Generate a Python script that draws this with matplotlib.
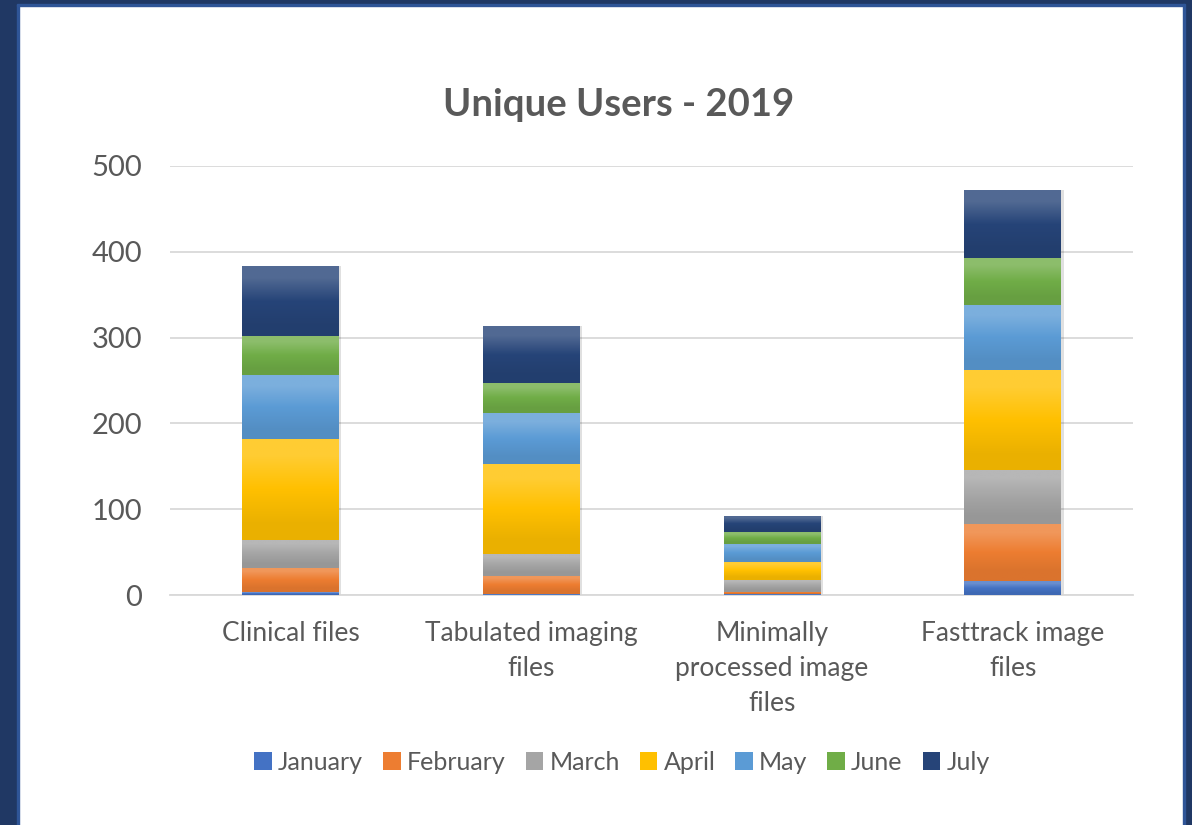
import numpy as np
import matplotlib
matplotlib.use("Agg")
import matplotlib.pyplot as plt
from matplotlib.patches import Rectangle
from matplotlib.colors import to_rgb

# Data
categories = ["Clinical files", "Tabulated imaging\nfiles",
              "Minimally\nprocessed image\nfiles", "Fasttrack image\nfiles"]
months = ["January", "February", "March", "April", "May", "June", "July"]
january = [3, 1, 1, 16]
february = [28, 21, 3, 67]
march = [33, 26, 14, 63]
april = [118, 105, 21, 116]
may = [74, 59, 21, 76]
june = [46, 35, 13, 55]
july = [81, 66, 19, 79]
series = [january, february, march, april, may, june, july]
colors = ["#4472C4", "#ED7D31", "#A5A5A5", "#FFC000", "#5B9BD5", "#70AD47", "#264478"]

plt.rcParams['font.family'] = ['Lato', 'DejaVu Sans']
text_color = "#595959"

fig = plt.figure(figsize=(11.92, 8.25), dpi=100)
W, H = 1192, 825

# dark frame around the chart
frame = "#203864"
edge = "#2F5597"
fig.patches.append(Rectangle((0, 0), 17 / W, 1, transform=fig.transFigure, color=frame, zorder=0))
fig.patches.append(Rectangle((17 / W, 0), 2 / W, 1 - 4 / H, transform=fig.transFigure, color=edge, zorder=0))
fig.patches.append(Rectangle((0, 1 - 4 / H), 1, 4 / H, transform=fig.transFigure, color=frame, zorder=0))
fig.patches.append(Rectangle((17 / W, 1 - 6 / H), 1 - 17 / W, 2 / H, transform=fig.transFigure, color=edge, zorder=0))
fig.patches.append(Rectangle((1 - 7 / W, 0), 7 / W, 1, transform=fig.transFigure, color=frame, zorder=0))
fig.patches.append(Rectangle((1 - 9 / W, 0), 2 / W, 1 - 4 / H, transform=fig.transFigure, color=edge, zorder=0))

ax = fig.add_axes([170 / W, 1 - 595 / H, (1133 - 170) / W, (595 - 166) / H])

x = np.arange(len(categories))
width = 0.40
bottom = np.zeros(len(categories))


def shade(c, f):
    r = np.array(to_rgb(c))
    if f > 0:
        return r + (1 - r) * f
    return r * (1 + f)


handles = []
for name, vals, col in zip(months, series, colors):
    bars = ax.bar(x, vals, width, bottom=bottom, color=col, label=name, zorder=2)
    handles.append(bars)
    grad = np.array([shade(col, -0.08), to_rgb(col), shade(col, 0.2)])[:, None, :]
    for rect in bars:
        x0, y0 = rect.get_x(), rect.get_y()
        im = ax.imshow(grad, extent=[x0, x0 + rect.get_width(), y0, y0 + rect.get_height()],
                       aspect='auto', interpolation='bilinear', origin='lower', zorder=3)
        im.set_clip_path(rect)
    bottom += np.array(vals)

# soft shadow behind the stacks
for xi, tot in zip(x, bottom):
    ax.bar(xi + 0.006, tot + 1.5, width + 0.012, bottom=-1.5, color="#000000", alpha=0.12, zorder=1)

ax.set_xlim(-0.5, len(categories) - 0.5)
ax.set_ylim(0, 500)
ax.set_yticks([0, 100, 200, 300, 400, 500])
ax.yaxis.grid(True, color="#D9D9D9", linewidth=1.3, zorder=0)
ax.set_axisbelow(True)
for s in ["top", "right", "left"]:
    ax.spines[s].set_visible(False)
ax.spines["bottom"].set_color("#D9D9D9")
ax.spines["bottom"].set_linewidth(1.3)
ax.set_xticks(x)
ax.set_xticklabels(categories, fontsize=19, color=text_color, linespacing=1.5)
ax.tick_params(axis='x', length=0, pad=19)
ax.tick_params(axis='y', length=0, pad=20, labelsize=21, labelcolor=text_color)

fig.text(619 / W, 1 - 105 / H, "Unique Users - 2019", ha='center', va='center',
         fontsize=27.5, fontweight='bold', color=text_color)

fig.legend(handles, months, loc='center', bbox_to_anchor=(622 / W, 1 - 762 / H), ncol=7,
           frameon=False, fontsize=18, labelcolor=text_color, handlelength=0.7,
           handleheight=0.7, handletextpad=0.25, columnspacing=0.8)

fig.savefig("out.png", dpi=100)
